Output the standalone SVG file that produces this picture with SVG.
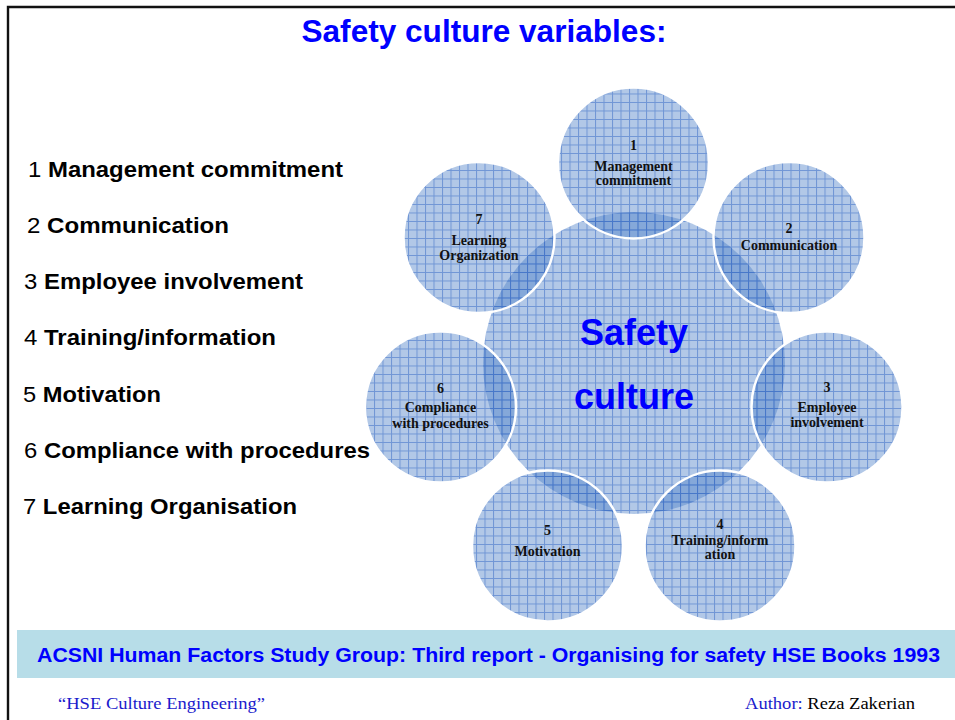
<svg xmlns="http://www.w3.org/2000/svg" width="955" height="720" viewBox="0 0 955 720">
<style>
.title{font-family:"Liberation Sans",Arial,sans-serif;font-weight:bold;fill:#0000ff}
.list{font-family:"Liberation Sans",Arial,sans-serif;font-size:22px;fill:#000}
.list tspan.b{font-weight:bold}
.sat{fill:url(#grid);stroke:#fff;stroke-width:2.5}
.lbl{font-family:"Liberation Serif","Times New Roman",serif;font-weight:bold;font-size:14px;fill:#111;text-anchor:middle}
.center{font-family:"Liberation Sans",Arial,sans-serif;font-weight:bold;font-size:36px;fill:#0000ff;text-anchor:middle}
.foot{font-family:"Liberation Serif","Times New Roman",serif;font-size:17px}
</style>
<defs>
<pattern id="grid" patternUnits="userSpaceOnUse" width="8.5" height="8.5">
<rect width="8.5" height="8.5" fill="rgb(72,124,198)" fill-opacity="0.42"/>
<path d="M0 0.5H8.5M0.5 0V8.5" stroke="rgb(45,100,195)" stroke-opacity="0.5" stroke-width="1" fill="none"/>
</pattern>
</defs>
<rect width="955" height="720" fill="#fff"/>
<g id="frame" fill="none" stroke="#111" stroke-width="2.4">
<path d="M8 720V7H955"/>
</g>
<text class="title" x="484" y="42" font-size="31" text-anchor="middle" textLength="365" lengthAdjust="spacingAndGlyphs">Safety culture variables:</text>
<g id="list" class="list">
<text x="28" y="177" textLength="315" lengthAdjust="spacingAndGlyphs">1 <tspan class="b">Management commitment</tspan></text>
<text x="27" y="233" textLength="202" lengthAdjust="spacingAndGlyphs">2 <tspan class="b">Communication</tspan></text>
<text x="24" y="289" textLength="279" lengthAdjust="spacingAndGlyphs">3 <tspan class="b">Employee involvement</tspan></text>
<text x="24" y="345" textLength="252" lengthAdjust="spacingAndGlyphs">4 <tspan class="b">Training/information</tspan></text>
<text x="23" y="402" textLength="138" lengthAdjust="spacingAndGlyphs">5 <tspan class="b">Motivation</tspan></text>
<text x="24" y="458" textLength="346" lengthAdjust="spacingAndGlyphs">6 <tspan class="b">Compliance with procedures</tspan></text>
<text x="23" y="514" textLength="274" lengthAdjust="spacingAndGlyphs">7 <tspan class="b">Learning Organisation</tspan></text>
</g>
<g id="hub">
<circle cx="634" cy="363" r="151" fill="url(#grid)"/>
<text class="center" x="634" y="345">Safety</text>
<text class="center" x="634" y="409">culture</text>
</g>
<g id="connectors"></g>
<g id="n1"><circle class="sat" cx="633.5" cy="163" r="75.5"/>
<text class="lbl" x="633.5" y="150">1</text><text class="lbl" x="633.5" y="171">Management</text><text class="lbl" x="633.5" y="185">commitment</text></g>
<g id="n2"><circle class="sat" cx="789" cy="237.5" r="75.5"/>
<text class="lbl" x="789" y="233">2</text><text class="lbl" x="789" y="250">Communication</text></g>
<g id="n3"><circle class="sat" cx="827" cy="407" r="75.5"/>
<text class="lbl" x="827" y="392">3</text><text class="lbl" x="827" y="412">Employee</text><text class="lbl" x="827" y="427">involvement</text></g>
<g id="n4"><circle class="sat" cx="720" cy="546" r="75.5"/>
<text class="lbl" x="720" y="529">4</text><text class="lbl" x="720" y="545">Training/inform</text><text class="lbl" x="720" y="559">ation</text></g>
<g id="n5"><circle class="sat" cx="547.5" cy="546" r="75.5"/>
<text class="lbl" x="547.5" y="535">5</text><text class="lbl" x="547.5" y="556">Motivation</text></g>
<g id="n6"><circle class="sat" cx="440.5" cy="407" r="75.5"/>
<text class="lbl" x="440.5" y="393">6</text><text class="lbl" x="440.5" y="412">Compliance</text><text class="lbl" x="440.5" y="428">with procedures</text></g>
<g id="n7"><circle class="sat" cx="479" cy="237.5" r="75.5"/>
<text class="lbl" x="479" y="224">7</text><text class="lbl" x="479" y="245">Learning</text><text class="lbl" x="479" y="260">Organization</text></g>
<g id="band">
<rect x="17" y="630" width="938" height="48" fill="#b7dde8"/>
<text x="37" y="662" font-family="Liberation Sans, Arial, sans-serif" font-weight="bold" font-size="19.5" fill="#0000ff" textLength="903" lengthAdjust="spacingAndGlyphs">ACSNI Human Factors Study Group: Third report - Organising for safety HSE Books 1993</text>
</g>
<g id="footer" class="foot">
<text x="58" y="709" fill="#1a1acc" textLength="207" lengthAdjust="spacingAndGlyphs">“HSE Culture Engineering”</text>
<text x="745" y="709" textLength="170" lengthAdjust="spacingAndGlyphs"><tspan fill="#1a1acc">Author:</tspan><tspan fill="#000"> Reza Zakerian</tspan></text>
</g>
</svg>
